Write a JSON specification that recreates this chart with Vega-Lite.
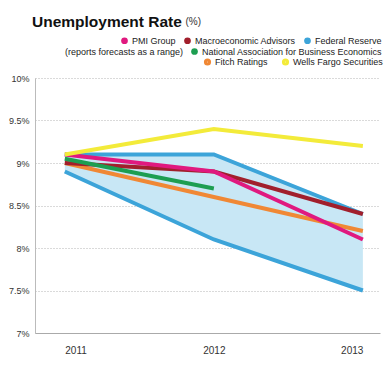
{
  "$schema": "https://vega.github.io/schema/vega-lite/v6.json",
  "width": 345,
  "height": 255,
  "autosize": {"type": "none"},
  "padding": {"left": 35, "top": 78, "right": 9, "bottom": 33},
  "background": "white",
  "config": {"view": {"stroke": null}, "font": "Liberation Sans"},
  "title": {"text": "Unemployment Rate", "anchor": "start", "frame": "group", "fontSize": 15.5, "fontWeight": "bold", "color": "#111111", "dx": -3, "dy": 18},
  "datasets": {
    "forecasts": [
      {"year": 2011, "series": "Federal Reserve", "band": "high", "value": 9.1},
      {"year": 2012, "series": "Federal Reserve", "band": "high", "value": 9.1},
      {"year": 2013, "series": "Federal Reserve", "band": "high", "value": 8.4},
      {"year": 2011, "series": "Federal Reserve", "band": "low", "value": 8.9},
      {"year": 2012, "series": "Federal Reserve", "band": "low", "value": 8.1},
      {"year": 2013, "series": "Federal Reserve", "band": "low", "value": 7.5},
      {"year": 2011, "series": "Fitch Ratings", "band": "point", "value": 9.0},
      {"year": 2012, "series": "Fitch Ratings", "band": "point", "value": 8.6},
      {"year": 2013, "series": "Fitch Ratings", "band": "point", "value": 8.2},
      {"year": 2011, "series": "Macroeconomic Advisors", "band": "point", "value": 9.0},
      {"year": 2012, "series": "Macroeconomic Advisors", "band": "point", "value": 8.9},
      {"year": 2013, "series": "Macroeconomic Advisors", "band": "point", "value": 8.4},
      {"year": 2011, "series": "National Association for Business Economics", "band": "point", "value": 9.05},
      {"year": 2012, "series": "National Association for Business Economics", "band": "point", "value": 8.7},
      {"year": 2011, "series": "PMI Group", "band": "point", "value": 9.1},
      {"year": 2012, "series": "PMI Group", "band": "point", "value": 8.9},
      {"year": 2013, "series": "PMI Group", "band": "point", "value": 8.1},
      {"year": 2011, "series": "Wells Fargo Securities", "band": "point", "value": 9.1},
      {"year": 2012, "series": "Wells Fargo Securities", "band": "point", "value": 9.4},
      {"year": 2013, "series": "Wells Fargo Securities", "band": "point", "value": 9.2}
    ]
  },
  "data": {"name": "forecasts"},
  "encoding": {
    "x": {
      "field": "year", "type": "quantitative",
      "scale": {"domain": [2010.8, 2013.115], "nice": false, "zero": false},
      "axis": {
        "values": [2011, 2012, 2013], "format": "d", "grid": false, "ticks": false,
        "domainColor": "#aaaaaa", "labelFontSize": 10, "labelColor": "#333333", "labelPadding": 12,
        "title": null,
        "labelAlign": {"condition": [{"test": "datum.value == 2011", "value": "left"}, {"test": "datum.value == 2013", "value": "right"}], "value": "center"}
      }
    }
  },
  "layer": [
    {
      "transform": [
        {"filter": "datum.series == 'Federal Reserve'"},
        {"pivot": "band", "value": "value", "groupby": ["year"]}
      ],
      "mark": {"type": "area", "color": "#c8e7f5"},
      "encoding": {
        "y": {
          "field": "low", "type": "quantitative",
          "scale": {"domain": [7, 10], "nice": false, "zero": false},
          "axis": {
            "values": [7, 7.5, 8, 8.5, 9, 9.5, 10],
            "labelExpr": "datum.value + '%'",
            "grid": true, "gridDash": [1, 2], "gridColor": "#b5b5b5", "ticks": false,
            "domainColor": "#bbbbbb", "labelFontSize": 9, "labelColor": "#333333", "labelPadding": 6,
            "title": "(%)", "titleAngle": 0, "titleX": 150, "titleY": -54, "titleAlign": "left",
            "titleBaseline": "alphabetic", "titleFontWeight": "normal", "titleFontSize": 10, "titleColor": "#333333"
          }
        },
        "y2": {"field": "high"}
      }
    },
    {
      "transform": [{"filter": "datum.series == 'Federal Reserve'"}],
      "mark": {"type": "line", "strokeWidth": 4, "strokeCap": "butt"},
      "encoding": {
        "y": {"field": "value", "type": "quantitative", "title": "(%)"},
        "detail": {"field": "band"},
        "color": {"field": "series", "type": "nominal"}
      }
    },
    {
      "transform": [{"filter": "datum.series != 'Federal Reserve'"}],
      "mark": {"type": "line", "strokeWidth": 4, "strokeCap": "butt"},
      "encoding": {
        "y": {"field": "value", "type": "quantitative", "title": "(%)"},
        "color": {
          "field": "series", "type": "nominal",
          "scale": {
            "domain": ["PMI Group", "Macroeconomic Advisors", "Federal Reserve", "National Association for Business Economics", "Fitch Ratings", "Wells Fargo Securities"],
            "range": ["#e0197f", "#a11f2c", "#3ca4d9", "#1d9e51", "#f08835", "#f3eb3a"]
          },
          "legend": {
            "values": ["PMI Group", "Macroeconomic Advisors", "Federal Reserve"],
            "orient": "none", "legendX": 85, "legendY": -42, "direction": "horizontal", "title": null,
            "symbolType": "circle", "symbolSize": 45, "symbolStrokeWidth": 0, "labelFontSize": 9, "labelColor": "#222222",
            "columnPadding": 7, "labelOffset": 3, "labelLimit": 300,
            "encode": {"symbols": {"update": {"fill": {"scale": "color", "field": "value"}, "stroke": {"value": "transparent"}, "shape": {"value": "circle"}, "opacity": {"value": 1}}}}
          }
        }
      }
    },
    {
      "transform": [{"filter": "datum.series == 'National Association for Business Economics'"}],
      "mark": {"type": "point", "filled": true, "opacity": 0, "size": 1},
      "encoding": {
        "y": {"field": "value", "type": "quantitative", "title": "(%)"},
        "fill": {
          "field": "series", "type": "nominal",
          "scale": {"domain": ["National Association for Business Economics"], "range": ["#1d9e51"]},
          "legend": {
            "orient": "none", "legendX": 30, "legendY": -31, "direction": "horizontal",
            "title": "(reports forecasts as a range)", "titleOrient": "left", "titleFontWeight": "normal",
            "titleFontSize": 9, "titleColor": "#222222", "titlePadding": 6, "titleBaseline": "middle",
            "symbolType": "circle", "symbolSize": 45, "symbolStrokeWidth": 0, "symbolOpacity": 1, "labelFontSize": 9, "labelColor": "#222222",
            "labelOffset": 3, "labelLimit": 300,
            "encode": {"symbols": {"update": {"fill": {"scale": "fill", "field": "value"}, "stroke": {"value": "transparent"}, "opacity": {"value": 1}}}}
          }
        }
      }
    },
    {
      "transform": [{"filter": "datum.series == 'Fitch Ratings' || datum.series == 'Wells Fargo Securities'"}],
      "mark": {"type": "point", "filled": false, "opacity": 0, "size": 1},
      "encoding": {
        "y": {"field": "value", "type": "quantitative", "title": "(%)"},
        "stroke": {
          "field": "series", "type": "nominal",
          "scale": {"domain": ["Fitch Ratings", "Wells Fargo Securities"], "range": ["#f08835", "#f3eb3a"]},
          "legend": {
            "orient": "none", "legendX": 168, "legendY": -21, "direction": "horizontal", "title": null,
            "symbolType": "circle", "symbolSize": 10, "symbolStrokeWidth": 4, "symbolOpacity": 1, "symbolFillColor": "transparent",
            "labelFontSize": 9, "labelColor": "#222222",
            "columnPadding": 7, "labelOffset": 3, "labelLimit": 300
          }
        }
      }
    }
  ]
}
